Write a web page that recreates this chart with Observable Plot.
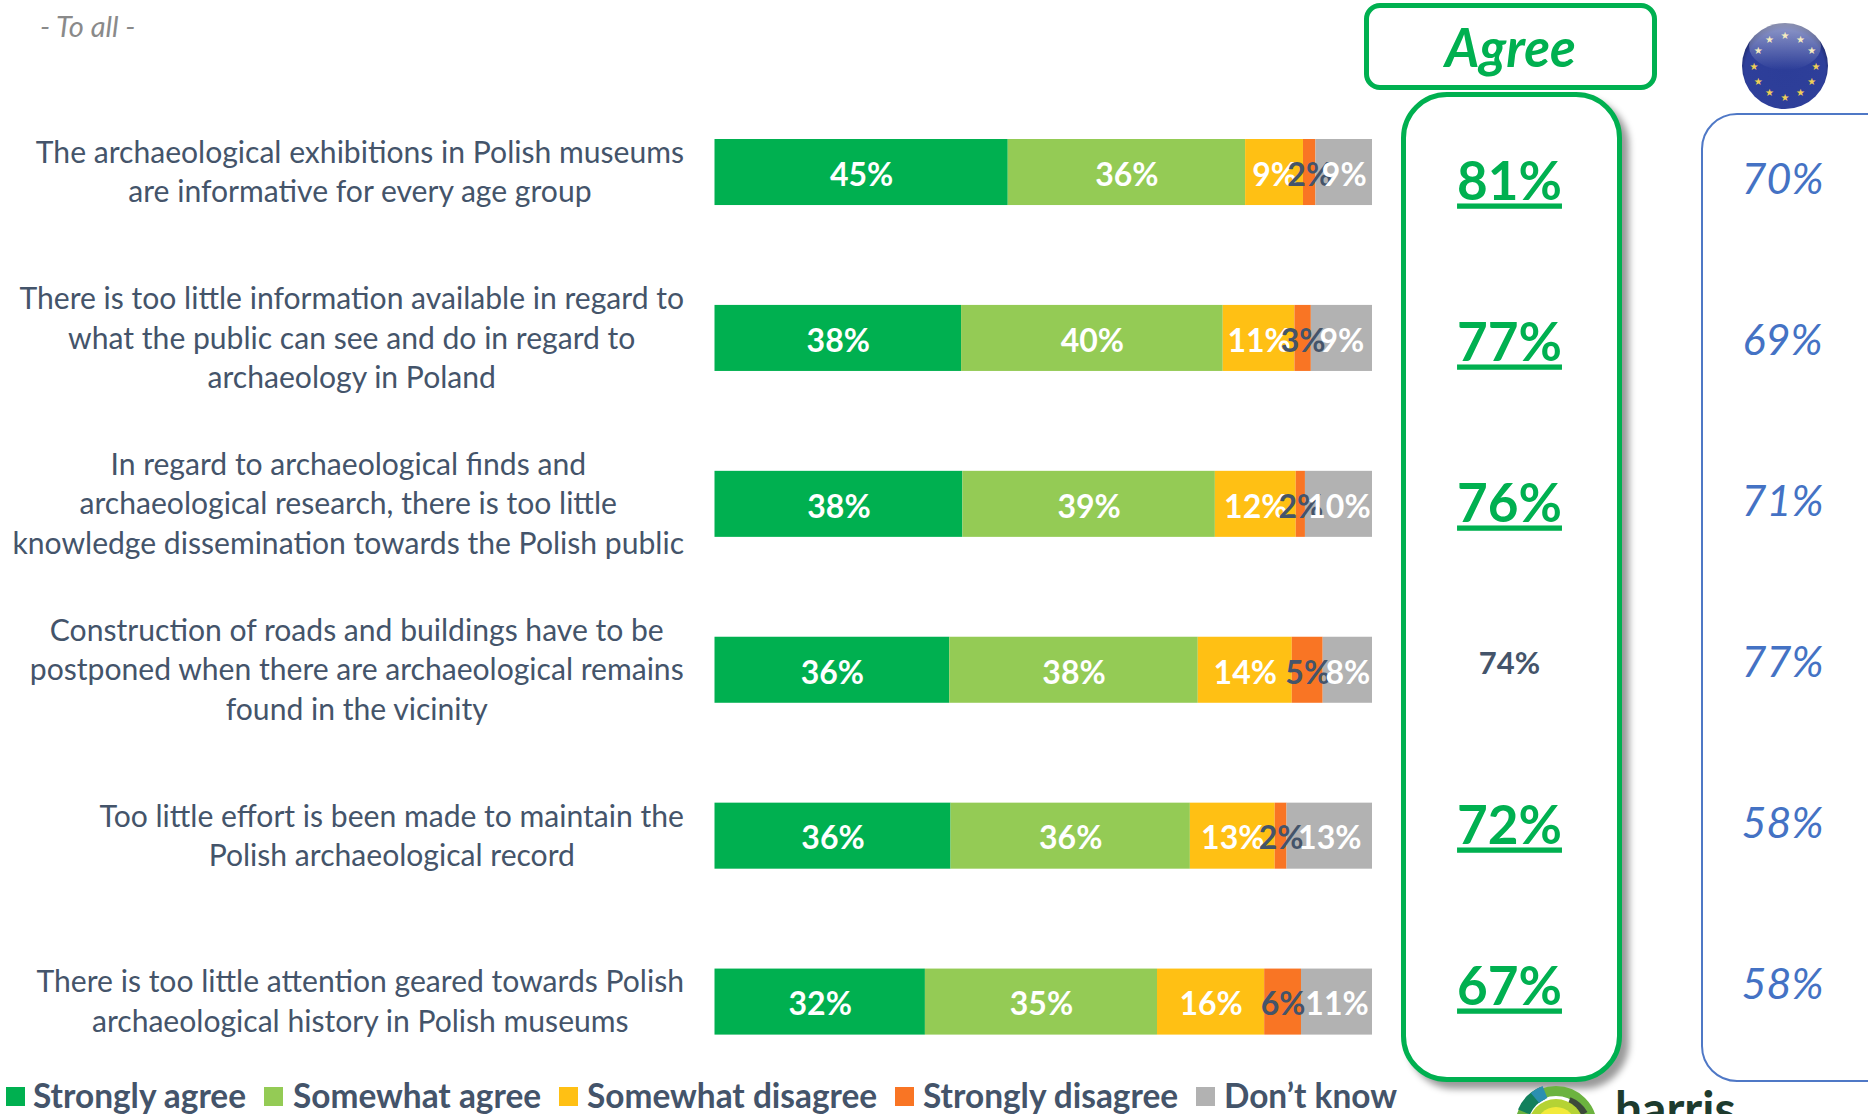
<!DOCTYPE html>
<html><head><meta charset="utf-8">
<script src="https://cdn.jsdelivr.net/npm/d3@7"></script>
<script src="https://cdn.jsdelivr.net/npm/@observablehq/plot@0.6"></script>
<style>
html,body{margin:0;padding:0;background:#fff;width:1868px;height:1114px;overflow:hidden;font-family:Lato,sans-serif}
#stage{position:relative;width:1868px;height:1114px;overflow:hidden}
#stage>*{position:absolute}
#stage svg{overflow:visible}
.toall{left:40px;top:8px;font:italic 29px Lato;color:#8a8a8a}
.agreeBox{left:1364px;top:3px;width:283px;height:77px;border:5.5px solid #00B050;border-radius:16px;text-align:center;font:italic bold 53px/77px Lato;color:#00B050}
.agreePanel{left:1401px;top:92px;width:211px;height:980px;border:5px solid #00B050;border-radius:46px;box-shadow:7px 7px 7px rgba(0,0,0,.4);background:#fff}
.euPanel{left:1701px;top:113px;width:200px;height:965px;border:2px solid #4F78C6;border-radius:36px}
.legend{left:0;top:1073px;height:44px;width:1500px;font:bold 33.4px/44px Lato;color:#44546A;white-space:nowrap}
.legend span{position:absolute;top:0}
.legend i{position:absolute;top:14px;width:19px;height:19px}
.harris{left:1615px;top:1073px;font:bold 48px/70px Lato;color:#1d3b2e}
</style></head><body>
<div id="stage"></div>
<script>
const categories = [
  "The archaeological exhibitions in Polish museums\nare informative for every age group",
  "There is too little information available in regard to\nwhat the public can see and do in regard to\narchaeology in Poland",
  "In regard to archaeological finds and\narchaeological research, there is too little\nknowledge dissemination towards the Polish public",
  "Construction of roads and buildings have to be\npostponed when there are archaeological remains\nfound in the vicinity",
  "Too little effort is been made to maintain the\nPolish archaeological record",
  "There is too little attention geared towards Polish\narchaeological history in Polish museums"
];
const seriesNames = ["Strongly agree","Somewhat agree","Somewhat disagree","Strongly disagree","Don\u2019t know"];
const seriesColors = ["#00B050","#94CB55","#FFC014","#F97524","#B2B2B2"];
const stronglyAgree    = [44.6,37.5,37.7,35.7,35.9,32.0];
const somewhatAgree    = [36.1,39.8,38.4,37.8,36.4,35.3];
const somewhatDisagree = [8.8,10.9,12.3,14.3,12.9,16.3];
const stronglyDisagree = [1.9,2.5,1.4,4.7,1.8,5.6];
const dontKnow         = [8.6,9.3,10.2,7.5,13.0,10.8];
const labelStrongly    = ["45%","38%","38%","36%","36%","32%"];
const labelSomewhat    = ["36%","40%","39%","38%","36%","35%"];
const labelSomeDis     = ["9%","11%","12%","14%","13%","16%"];
const labelStrongDis   = ["2%","3%","2%","5%","2%","6%"];
const labelDontKnow    = ["9%","9%","10%","8%","13%","11%"];
const agreeTotals = ["81%","77%","76%","74%","72%","67%"];
const agreeEmphasis = [true,true,true,false,true,true];
const euTotals = ["70%","69%","71%","77%","58%","58%"];

const seriesValues = [stronglyAgree,somewhatAgree,somewhatDisagree,stronglyDisagree,dontKnow];
const seriesLabels = [labelStrongly,labelSomewhat,labelSomeDis,labelStrongDis,labelDontKnow];
const table = seriesNames.flatMap((s,i)=>categories.map((c,j)=>({series:s,category:c,value:seriesValues[i][j],label:seriesLabels[i][j]})));

const stage = document.getElementById("stage");
const add = (cls,html="")=>{const d=document.createElement("div");d.className=cls;d.innerHTML=html;stage.appendChild(d);return d;};
add("toall","- To all -");
add("agreeBox","Agree");
add("agreePanel");
add("euPanel");

// EU flag
const starAngles = d3.range(12).map(i=>i*30);
const flag = `<svg xmlns="http://www.w3.org/2000/svg" width="100" height="100" style="left:1735px;top:16px;position:absolute">
<defs><radialGradient id="eu" cx=".5" cy=".55" r=".55"><stop offset="0" stop-color="#2c3d98"/><stop offset=".85" stop-color="#2e3f9a"/><stop offset="1" stop-color="#1b2560"/></radialGradient>
<linearGradient id="gl" x1="0" y1="0" x2="0" y2="1"><stop offset="0" stop-color="#fff" stop-opacity=".5"/><stop offset="1" stop-color="#fff" stop-opacity="0"/></linearGradient></defs>
<circle cx="50" cy="50" r="43" fill="url(#eu)"/>
<ellipse cx="50" cy="30" rx="36" ry="24" fill="url(#gl)"/>
${starAngles.map(a=>`<text x="${50+31*Math.sin(a*Math.PI/180)}" y="${50-31*Math.cos(a*Math.PI/180)+3.5}" font-size="10" text-anchor="middle" fill="${(a<=60||a>=300)?"#f6ecc0":"#f0cf55"}" font-family="DejaVu Sans">\u2605</text>`).join("")}
</svg>`;
stage.insertAdjacentHTML("beforeend",flag);

// Left-label font, and the blocks are centred lines whose widest line ends at the same right edge
const labelSize = 30.1;
const ctx = document.createElement("canvas").getContext("2d");
ctx.font = labelSize + "px Lato";
const blockWidth = c => d3.max(c.split("\n"),l=>ctx.measureText(l).width);
const labelMarks = categories.map(c=>Plot.text([c],{
  x:()=>0, y:d=>d, text:d=>d, dx:-(31+blockWidth(c)/2), dy:-2.5, textAnchor:"middle",
  lineHeight:39.5/labelSize, fontSize:labelSize, fill:"#44546A", fontFamily:"Lato"
}));

const bars = Plot.plot({
  width:1868,height:1114,margin:0,
  style:{background:"none",overflow:"visible"},
  x:{domain:[0,100],range:[714.5,1372],axis:null},
  y:{type:"band",domain:categories,range:[139,1034.6],padding:0.602,paddingOuter:0,align:0.5,round:false,axis:null},
  color:{domain:seriesNames,range:seriesColors},
  marks:[
    Plot.barX(table,Plot.stackX({x:"value",y:"category",fill:"series",order:seriesNames})),
    Plot.text(table,Plot.stackX({x:"value",y:"category",z:"series",order:seriesNames,text:"label",
      fontFamily:"Lato",fontWeight:"bold",fontSize:32,dy:3,
      fill:d=>d.series===seriesNames[3]?"#44546A":"#fff"})),
    ...labelMarks
  ]
});
stage.appendChild(bars);

const rows = categories.map((c,i)=>({category:c,agree:agreeTotals[i],big:agreeEmphasis[i],eu:euTotals[i]}));
const cols = Plot.plot({
  width:1868,height:1114,margin:0,
  style:{background:"none",overflow:"visible"},
  x:{type:"point",domain:["Agree","EU"],range:[1509,1782],padding:0,axis:null},
  y:{type:"point",domain:categories,range:[180,985],padding:0,axis:null},
  marks:[
    Plot.text(rows.filter(d=>d.big),{x:()=>"Agree",y:"category",text:"agree",fill:"#00B050",fontFamily:"Lato",fontWeight:"bold",fontSize:53,dy:3}),
    Plot.text(rows.filter(d=>!d.big),{x:()=>"Agree",y:"category",text:"agree",fill:"#44546A",fontFamily:"Lato",fontWeight:"bold",fontSize:31,dy:1}),
    Plot.text(rows,{x:()=>"EU",y:"category",text:"eu",fill:"#4472C4",fontFamily:"Lato",fontStyle:"italic",fontSize:43})
  ]
});
stage.appendChild(cols);
d3.select(cols).selectAll("text").filter(function(){
  return this.closest("g[fill]") && this.closest("g[fill]").getAttribute("fill").toUpperCase()==="#00B050";
}).style("text-decoration","underline").style("text-decoration-thickness","5px").style("text-underline-offset","5px");

// legend
const legendSwatchX=[6,264,559,895,1196], legendTextX=[33,293,587,923,1224];
const lg = add("legend");
seriesNames.forEach((s,i)=>{
  lg.insertAdjacentHTML("beforeend",`<i style="left:${legendSwatchX[i]}px;background:${seriesColors[i]}"></i><span style="left:${legendTextX[i]}px">${s}</span>`);
});

// logo
stage.insertAdjacentHTML("beforeend",`<svg xmlns="http://www.w3.org/2000/svg" width="90" height="40" style="left:1511px;top:1080px;position:absolute" viewBox="0 0 90 40">
<circle cx="45" cy="47" r="36" fill="none" stroke="#6cb33f" stroke-width="10"/>
<path d="M13 32 A36 36 0 0 1 32 13" fill="none" stroke="#12805c" stroke-width="13"/>
<path d="M24 18 A36 36 0 0 1 34 12" fill="none" stroke="#2b8fb0" stroke-width="13"/>
<path d="M58 21 A30 30 0 0 1 73 34" fill="none" stroke="#3c4a3a" stroke-width="8"/>
<circle cx="45" cy="47" r="28" fill="#b5d334"/><circle cx="45" cy="47" r="20" fill="#f2ea3a"/><circle cx="45" cy="47" r="13" fill="#fbfad0"/></svg>`);
add("harris","harris");
</script>
</body></html>
